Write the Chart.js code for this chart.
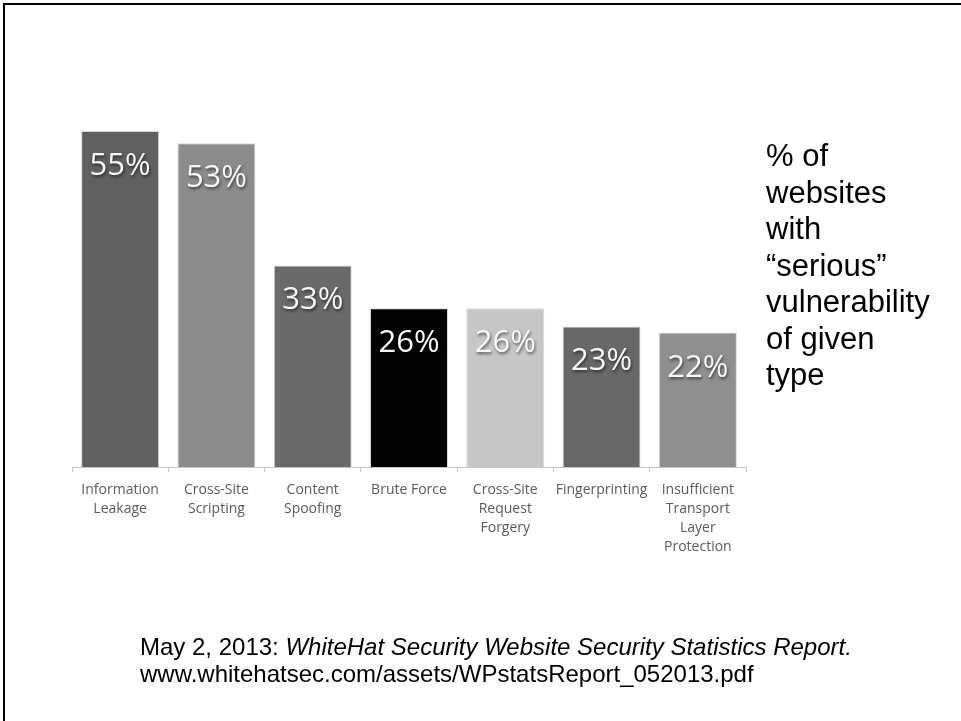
<!DOCTYPE html>
<html>
<head>
<meta charset="utf-8">
<script src="https://cdn.jsdelivr.net/npm/chart.js@4.4.0/dist/chart.umd.min.js"></script>
<style>
  html, body { margin: 0; padding: 0; background: #fff; }
  #slide { position: relative; width: 961px; height: 721px; overflow: hidden; }
  #frame { position: absolute; left: 3px; top: 3px; width: 970px; height: 730px;
           border-top: 2px solid #000; border-left: 2px solid #000; }
  #myChart { position: absolute; left: 0; top: 0; }
  #sideNote { position: absolute; left: 766px; top: 138px;
              font-family: "Liberation Sans", Arial, sans-serif; font-size: 31px;
              line-height: 36.5px; color: #000; }
  #source { position: absolute; left: 140px; top: 633px;
            font-family: "Liberation Sans", Arial, sans-serif; font-size: 24px;
            line-height: 27px; color: #000; }
</style>
</head>
<body>
<div id="slide">
  <canvas id="myChart" width="961" height="721"></canvas>
  <div id="frame"></div>
  <div id="sideNote">% of<br>websites<br>with<br>“serious”<br>vulnerability<br>of given<br>type</div>
  <div id="source">May 2, 2013: <i>WhiteHat Security Website Security Statistics Report.</i><br>www.whitehatsec.com/assets/WPstatsReport_052013.pdf</div>
</div>
<script>
const categories = [
    ['Information', 'Leakage'],
    ['Cross-Site', 'Scripting'],
    ['Content', 'Spoofing'],
    ['Brute Force'],
    ['Cross-Site', 'Request', 'Forgery'],
    ['Fingerprinting'],
    ['Insufficient', 'Transport', 'Layer', 'Protection']
];
const percentValues = [55, 53, 33, 26, 26, 23, 22];
const barColors = ['#606060', '#8c8c8c', '#6a6a6a', '#030303', '#c6c6c6', '#686868', '#8f8f8f'];

// white percentage labels inside the top of each bar
const barValueLabels = {
    id: 'barValueLabels',
    afterDatasetsDraw(chart) {
        const ctx = chart.ctx;
        const meta = chart.getDatasetMeta(0);
        ctx.save();
        ctx.font = '31px "Open Sans"';
        ctx.textAlign = 'center';
        ctx.textBaseline = 'alphabetic';
        ctx.fillStyle = '#f6f6f6';
        ctx.shadowColor = 'rgba(0,0,0,0.55)';
        ctx.shadowBlur = 3;
        ctx.shadowOffsetX = 1;
        ctx.shadowOffsetY = 2;
        meta.data.forEach((bar, i) => {
            ctx.fillText(percentValues[i] + '%', bar.x, bar.y + 44);
        });
        ctx.restore();
    }
};

const config = {
    type: 'bar',
    data: {
        labels: categories,
        datasets: [{
            data: percentValues,
            backgroundColor: barColors,
            borderColor: '#d6d6d6',
            borderWidth: 1,
            categoryPercentage: 1,
            barPercentage: 0.81,
        }]
    },
    options: {
        responsive: false,
        animation: false,
        devicePixelRatio: 1,
        layout: {
            padding: { left: 72, right: 215, top: 131, bottom: 154 }
        },
        plugins: {
            legend: { display: false },
            tooltip: { enabled: false },
            title: { display: false }
        },
        scales: {
            x: {
                offset: true,
                grid: {
                    offset: true,
                    drawOnChartArea: false,
                    drawTicks: true,
                    tickLength: 5,
                    color: '#c4c4c4'
                },
                border: { display: true, color: '#c4c4c4' },
                ticks: {
                    autoSkip: false,
                    maxRotation: 0,
                    padding: 8,
                    color: '#5a5a5a',
                    font: { family: 'Open Sans', size: 14, lineHeight: 1.36 }
                },
                afterFit(scale) { scale.height = 100; }
            },
            y: {
                display: false,
                min: 0,
                max: 55
            }
        }
    },
    plugins: [barValueLabels]
};

const myChart = new Chart(document.getElementById('myChart'), config);
</script>
</body>
</html>
